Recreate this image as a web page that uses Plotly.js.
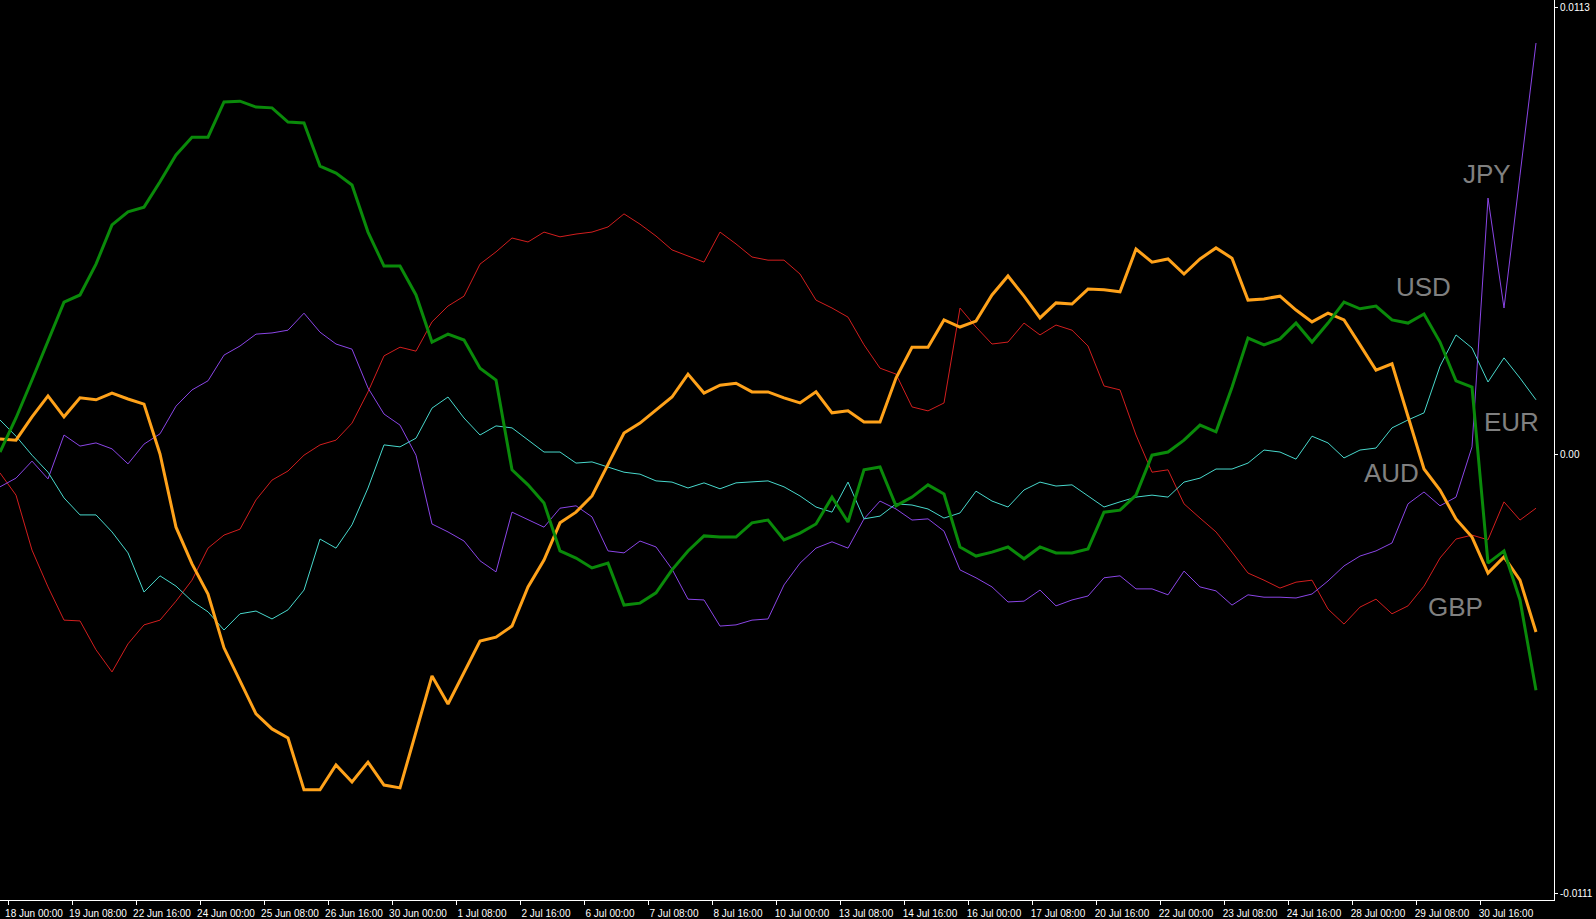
<!DOCTYPE html>
<html>
<head>
<meta charset="utf-8">
<script src="https://cdn.plot.ly/plotly-3.0.1.min.js"></script>
<style>
	html, body { margin: 0; padding: 0; background: #000; }
	#graphDiv { width: 1596px; height: 919px; }
</style>
</head>
<body>
<div id="graphDiv"></div>
<script>
// Strength lines, one value every second H4 bar
const usd = [
	0.00005, 0.00091, 0.00187, 0.00288, 0.00384, 0.00402, 0.00480, 0.00579, 0.00612, 0.00624,
	0.00688, 0.00756, 0.00801, 0.00801, 0.00890, 0.00892, 0.00877, 0.00875, 0.00839, 0.00837,
	0.00728, 0.00710, 0.00680, 0.00561, 0.00475, 0.00475, 0.00402, 0.00283, 0.00303, 0.00288,
	0.00217, 0.00187, -0.00040, -0.00078, -0.00124, -0.00245, -0.00263, -0.00288, -0.00276, -0.00382,
	-0.00377, -0.00351, -0.00293, -0.00245, -0.00207, -0.00210, -0.00210, -0.00174, -0.00167, -0.00217,
	-0.00200, -0.00177, -0.00109, -0.00172, -0.00040, -0.00033, -0.00131, -0.00109, -0.00078, -0.00101,
	-0.00235, -0.00258, -0.00248, -0.00235, -0.00265, -0.00235, -0.00250, -0.00250, -0.00240, -0.00147,
	-0.00142, -0.00104, -0.00003, 0.00005, 0.00035, 0.00073, 0.00056, 0.00169, 0.00293, 0.00276,
	0.00291, 0.00331, 0.00283, 0.00331, 0.00384, 0.00367, 0.00374, 0.00339, 0.00331, 0.00354,
	0.00283, 0.00185, 0.00169, -0.00276, -0.00245, -0.00369, -0.00597
];
const aud = [
	0.00038, 0.00035, 0.00094, 0.00147, 0.00094, 0.00142, 0.00137, 0.00154, 0.00139, 0.00126,
	0.00000, -0.00185, -0.00278, -0.00354, -0.00490, -0.00574, -0.00657, -0.00695, -0.00718, -0.00849,
	-0.00849, -0.00786, -0.00829, -0.00779, -0.00837, -0.00844, -0.00703, -0.00561, -0.00632, -0.00554,
	-0.00473, -0.00463, -0.00435, -0.00336, -0.00268, -0.00174, -0.00147, -0.00106, -0.00025, 0.00053,
	0.00078, 0.00111, 0.00144, 0.00202, 0.00154, 0.00174, 0.00179, 0.00157, 0.00157, 0.00142,
	0.00129, 0.00157, 0.00104, 0.00109, 0.00081, 0.00081, 0.00192, 0.00270, 0.00270, 0.00339,
	0.00321, 0.00336, 0.00402, 0.00450, 0.00399, 0.00344, 0.00382, 0.00379, 0.00417, 0.00415,
	0.00410, 0.00518, 0.00485, 0.00493, 0.00455, 0.00493, 0.00521, 0.00495, 0.00389, 0.00392,
	0.00399, 0.00364, 0.00334, 0.00356, 0.00339, 0.00276, 0.00212, 0.00228, 0.00094, -0.00038,
	-0.00091, -0.00164, -0.00210, -0.00301, -0.00260, -0.00319, -0.00450
];
const gbp = [
	-0.00048, -0.00104, -0.00243, -0.00336, -0.00420, -0.00422, -0.00495, -0.00551, -0.00480, -0.00432,
	-0.00420, -0.00372, -0.00319, -0.00238, -0.00205, -0.00190, -0.00116, -0.00066, -0.00043, -0.00003,
	0.00023, 0.00035, 0.00078, 0.00157, 0.00248, 0.00270, 0.00260, 0.00334, 0.00374, 0.00399,
	0.00480, 0.00511, 0.00546, 0.00536, 0.00561, 0.00549, 0.00556, 0.00561, 0.00574, 0.00607,
	0.00581, 0.00551, 0.00516, 0.00501, 0.00485, 0.00561, 0.00531, 0.00498, 0.00490, 0.00490,
	0.00455, 0.00389, 0.00369, 0.00346, 0.00276, 0.00217, 0.00202, 0.00119, 0.00109, 0.00129,
	0.00369, 0.00321, 0.00278, 0.00283, 0.00331, 0.00301, 0.00326, 0.00313, 0.00273, 0.00172,
	0.00162, 0.00048, -0.00046, -0.00040, -0.00126, -0.00162, -0.00197, -0.00248, -0.00301, -0.00319,
	-0.00339, -0.00324, -0.00319, -0.00392, -0.00430, -0.00387, -0.00367, -0.00404, -0.00384, -0.00334,
	-0.00263, -0.00215, -0.00205, -0.00217, -0.00121, -0.00167, -0.00137
];
const jpy = [
	-0.00083, -0.00061, -0.00018, -0.00063, 0.00048, 0.00020, 0.00028, 0.00013, -0.00025, 0.00025,
	0.00051, 0.00121, 0.00162, 0.00185, 0.00250, 0.00273, 0.00303, 0.00306, 0.00313, 0.00356,
	0.00308, 0.00278, 0.00265, 0.00167, 0.00101, 0.00073, -0.00003, -0.00177, -0.00197, -0.00220,
	-0.00270, -0.00298, -0.00147, -0.00167, -0.00185, -0.00137, -0.00131, -0.00159, -0.00245, -0.00250,
	-0.00220, -0.00235, -0.00291, -0.00367, -0.00369, -0.00435, -0.00432, -0.00420, -0.00417, -0.00331,
	-0.00276, -0.00238, -0.00222, -0.00238, -0.00164, -0.00119, -0.00139, -0.00167, -0.00164, -0.00195,
	-0.00293, -0.00313, -0.00336, -0.00374, -0.00372, -0.00344, -0.00384, -0.00369, -0.00359, -0.00313,
	-0.00308, -0.00341, -0.00341, -0.00356, -0.00296, -0.00336, -0.00346, -0.00382, -0.00356, -0.00362,
	-0.00362, -0.00364, -0.00354, -0.00321, -0.00283, -0.00258, -0.00245, -0.00225, -0.00126, -0.00096,
	-0.00131, -0.00109, 0.00018, 0.00647, 0.00369, 0.00705, 0.01039
];
const eur = [
	0.00086, 0.00045, -0.00003, -0.00046, -0.00111, -0.00154, -0.00154, -0.00197, -0.00250, -0.00349,
	-0.00308, -0.00334, -0.00372, -0.00399, -0.00445, -0.00404, -0.00397, -0.00417, -0.00394, -0.00344,
	-0.00215, -0.00238, -0.00179, -0.00086, 0.00023, 0.00018, 0.00040, 0.00116, 0.00144, 0.00091,
	0.00048, 0.00071, 0.00066, 0.00035, 0.00005, 0.00005, -0.00023, -0.00020, -0.00033, -0.00046,
	-0.00051, -0.00068, -0.00071, -0.00086, -0.00073, -0.00088, -0.00073, -0.00071, -0.00068, -0.00083,
	-0.00106, -0.00134, -0.00147, -0.00071, -0.00164, -0.00157, -0.00126, -0.00129, -0.00139, -0.00162,
	-0.00149, -0.00094, -0.00119, -0.00134, -0.00091, -0.00071, -0.00081, -0.00078, -0.00106, -0.00134,
	-0.00121, -0.00109, -0.00104, -0.00109, -0.00071, -0.00061, -0.00038, -0.00038, -0.00023, 0.00010,
	0.00005, -0.00013, 0.00045, 0.00028, -0.00010, 0.00010, 0.00015, 0.00066, 0.00086, 0.00104,
	0.00222, 0.00301, 0.00268, 0.00182, 0.00243, 0.00192, 0.00137
];

// Time labels, one every 8 bars starting at bar 1
const timeLabels = [
	'18 Jun 00:00', '19 Jun 08:00', '22 Jun 16:00', '24 Jun 00:00', '25 Jun 08:00', '26 Jun 16:00',
	'30 Jun 00:00', '1 Jul 08:00', '2 Jul 16:00', '6 Jul 00:00', '7 Jul 08:00', '8 Jul 16:00',
	'10 Jul 00:00', '13 Jul 08:00', '14 Jul 16:00', '16 Jul 00:00', '17 Jul 08:00', '20 Jul 16:00',
	'22 Jul 00:00', '23 Jul 08:00', '24 Jul 16:00', '28 Jul 00:00', '29 Jul 08:00', '30 Jul 16:00'
];
const priceTicks = [0.0113, 0, -0.0111];
const priceLabels = ['0.0113', '0.00', '-0.0111'];

// Bar index of each sample
const bars = usd.map((_, i) => i * 2);

function makeLine(values, color, width) {
	return {
		type: 'scatter',
		mode: 'lines',
		x: bars,
		y: values,
		line: { color: color, width: width },
		hoverinfo: 'skip',
	};
}

const data = [
	makeLine(gbp, '#d21e1e', 1),
	makeLine(jpy, '#8a45e6', 1),
	makeLine(eur, '#48d8cc', 1),
	makeLine(aud, '#ffa21a', 3),
	makeLine(usd, '#0a8a0a', 3),
];

// Currency names
const labelFont = { family: 'Liberation Sans, Arial, sans-serif', size: 26, color: '#808080' };
const names = [
	{ text: 'JPY', x: 185.9, y: 0.00708 },
	{ text: 'USD', x: 177.9, y: 0.00422 },
	{ text: 'EUR', x: 188.9, y: 0.00081 },
	{ text: 'AUD', x: 173.9, y: -0.00048 },
	{ text: 'GBP', x: 181.9, y: -0.00387 },
];

const tickFont = { family: 'Liberation Sans, Arial, sans-serif', size: 10, color: '#ffffff' };

const layout = {
	width: 1596,
	height: 919,
	paper_bgcolor: '#000000',
	plot_bgcolor: '#000000',
	margin: { l: 0, r: 42, t: 0, b: 19 },
	showlegend: false,
	xaxis: {
		range: [0, 194.25],
		tickmode: 'array',
		tickvals: timeLabels.map((_, k) => 1 + 8 * k),
		ticktext: timeLabels,
		ticks: 'outside',
		ticklen: 4,
		tickcolor: '#ffffff',
		ticklabelshift: 26,
		tickfont: tickFont,
		showline: true,
		linecolor: '#ffffff',
		linewidth: 1,
		showgrid: false,
		zeroline: false,
		fixedrange: true,
	},
	yaxis: {
		side: 'right',
		range: [-0.011275, 0.011477],
		tickmode: 'array',
		tickvals: priceTicks,
		ticktext: priceLabels,
		ticks: 'outside',
		ticklen: 3,
		tickcolor: '#ffffff',
		tickfont: tickFont,
		showline: true,
		linecolor: '#ffffff',
		linewidth: 1,
		showgrid: false,
		zeroline: false,
		fixedrange: true,
	},
	annotations: names.map((n) => ({
		text: n.text,
		x: n.x,
		y: n.y,
		xref: 'x',
		yref: 'y',
		showarrow: false,
		font: labelFont,
	})),
};

Plotly.newPlot('graphDiv', data, layout, { displayModeBar: false, staticPlot: true });
</script>
</body>
</html>
